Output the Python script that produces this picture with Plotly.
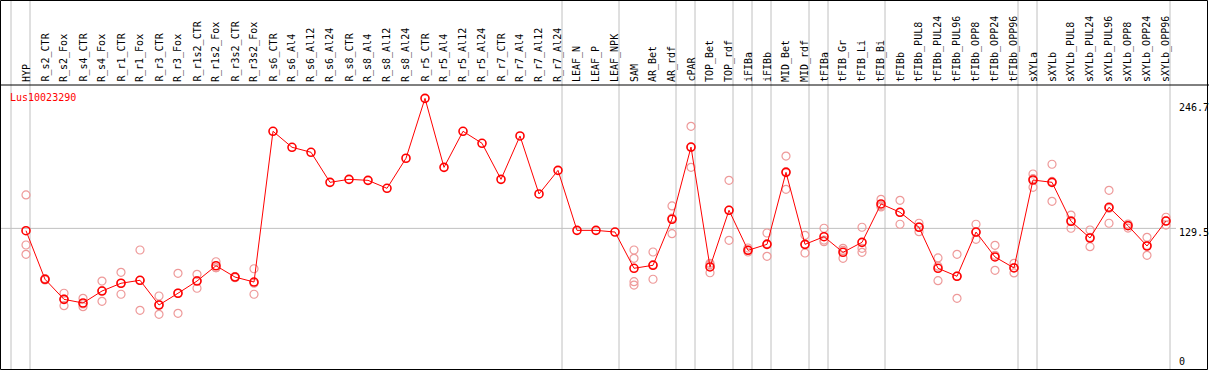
import plotly.graph_objects as go

title = "Lus10023290"

categories = [
    "HYP",
    "R_s2_CTR", "R_s2_Fox", "R_s4_CTR", "R_s4_Fox", "R_r1_CTR", "R_r1_Fox",
    "R_r3_CTR", "R_r3_Fox", "R_r1s2_CTR", "R_r1s2_Fox", "R_r3s2_CTR", "R_r3s2_Fox",
    "R_s6_CTR", "R_s6_Al4", "R_s6_Al12", "R_s6_Al24",
    "R_s8_CTR", "R_s8_Al4", "R_s8_Al12", "R_s8_Al24",
    "R_r5_CTR", "R_r5_Al4", "R_r5_Al12", "R_r5_Al24",
    "R_r7_CTR", "R_r7_Al4", "R_r7_Al12", "R_r7_Al24",
    "LEAF_N", "LEAF_P", "LEAF_NPK",
    "SAM", "AR_Bet", "AR_rdf",
    "cPAR",
    "TOP_Bet", "TOP_rdf",
    "iFIBa",
    "iFIBb",
    "MID_Bet", "MID_rdf",
    "tFIBa",
    "tFIB_Gr", "tFIB_Li", "tFIB_Bi",
    "tFIBb", "tFIBb_PUL8", "tFIBb_PUL24", "tFIBb_PUL96", "tFIBb_OPP8", "tFIBb_OPP24", "tFIBb_OPP96",
    "sXYLa",
    "sXYLb", "sXYLb_PUL8", "sXYLb_PUL24", "sXYLb_PUL96", "sXYLb_OPP8", "sXYLb_OPP24", "sXYLb_OPP96",
]

# sizes of the groups separated by grey vertical lines
group_sizes = [1, 28, 3, 3, 1, 2, 1, 1, 2, 1, 3, 7, 1, 7]

means = [
    127.4,
    83.6, 65.5, 62.2, 73.0, 80.0, 82.7, 60.4, 71.0, 82.0, 95.8, 85.6, 81.1,
    217.0, 202.6, 198.1, 171.0,
    173.7, 172.8, 165.6, 192.7,
    246.7, 184.5, 217.0, 206.2,
    173.7, 212.8, 160.5, 181.8,
    127.7, 127.7, 126.2,
    93.5, 96.2, 137.7,
    202.8,
    94.7, 145.8,
    109.7,
    115.1,
    180.0, 115.1,
    122.0,
    107.9, 116.9, 151.5,
    144.0, 130.5, 93.5, 86.3, 126.2, 103.7, 93.8,
    173.1,
    171.0, 135.9, 120.8, 148.5, 131.9, 113.6, 136.1,
]

replicates = [
    [159.6, 114.5, 106.1],
    [83.0, 84.2, 83.6], [71.0, 59.8, 65.7], [66.4, 58.9, 61.3], [82.0, 63.7, 73.3],
    [89.9, 70.1, 80.0], [110.0, 55.6, 82.5], [68.5, 52.0, 60.7], [89.0, 52.9, 71.1],
    [88.1, 75.5, 82.4], [99.4, 94.0, 94.0], [85.0, 86.0, 85.7], [93.1, 70.1, 80.0],
    [], [], [], [],
    [], [], [], [],
    [], [], [], [],
    [], [], [], [],
    [], [], [],
    [110.0, 102.5, 81.4, 78.4], [108.2, 83.6, 96.8], [149.7, 124.7, 138.7],
    [221.5, 184.5, 202.5],
    [98.0, 89.5, 96.6], [172.8, 118.7, 145.9],
    [111.8, 108.2, 110.0],
    [125.3, 104.3, 115.7],
    [194.7, 164.7, 180.6], [123.2, 107.3, 114.8],
    [129.6, 117.5, 118.9],
    [111.5, 102.5, 109.7], [130.5, 111.5, 107.9], [155.7, 148.8, 150.0],
    [154.8, 133.2, 144.0], [134.1, 126.5, 130.9], [102.8, 82.3, 95.4], [106.1, 66.4, 86.4],
    [133.2, 119.6, 125.8], [114.2, 91.7, 105.2], [98.0, 89.3, 94.1],
    [178.5, 166.5, 174.3],
    [187.3, 153.9, 171.8], [141.5, 129.6, 136.6], [128.0, 113.0, 121.4], [163.8, 134.1, 147.6],
    [133.4, 129.8, 132.5], [121.4, 105.2, 114.2], [139.5, 132.5, 136.3],
]

y_ticks = [0, 129.5, 246.7]
y_tick_labels = ["0", "129.5", "246.7"]

# ---------------------------------------------------------------- layout
W, H = 1209, 370
FONT = "DejaVu Sans Mono"
RED = "#ff0000"
PINK = "#ee9a9a"
GREY = "#c0c0c0"

# pixel geometry of the original
x_first_px, x_step_px = 26, 19
y_zero_px, y_per_unit = 372.0, 1.1092
header_px = 85

x_range = [(0 - x_first_px) / x_step_px, (W - x_first_px) / x_step_px]
y_range = [(y_zero_px - H) / y_per_unit, y_zero_px / y_per_unit]

xs = list(range(len(categories)))

fig = go.Figure()

rx, ry = [], []
for i, reps in enumerate(replicates):
    for v in reps:
        rx.append(i)
        ry.append(v)

fig.add_trace(go.Scatter(
    x=rx, y=ry, mode="markers",
    marker=dict(symbol="circle-open", size=8, color=PINK, line=dict(width=1.2, color=PINK)),
    hoverinfo="skip", showlegend=False,
))
fig.add_trace(go.Scatter(
    x=xs, y=means, mode="lines+markers",
    line=dict(color=RED, width=1),
    marker=dict(symbol="circle-open", size=8, color=RED, line=dict(width=1.6, color=RED)),
    showlegend=False,
))

shapes = []
# group separators
offset = 4 / x_step_px
pos = -1
bounds = [pos]
for g in group_sizes:
    pos += g
    bounds.append(pos)
for b in bounds:
    shapes.append(dict(type="line", xref="x", yref="paper", x0=b + offset, x1=b + offset,
                       y0=0, y1=1, line=dict(color=GREY, width=1), layer="below"))
# horizontal reference line at middle tick
shapes.append(dict(type="line", xref="paper", yref="y", x0=0, x1=1176 / W,
                   y0=y_ticks[1], y1=y_ticks[1], line=dict(color=GREY, width=1), layer="below"))
# header separator
shapes.append(dict(type="line", xref="paper", yref="paper", x0=0, x1=1,
                   y0=1 - header_px / H, y1=1 - header_px / H, line=dict(color="black", width=1)))
# outer border
shapes.append(dict(type="rect", xref="paper", yref="paper", x0=0.5 / W, x1=1 - 1.5 / W,
                   y0=0.5 / H, y1=1 - 0.5 / H, line=dict(color="black", width=1)))

annotations = []
for i, c in enumerate(categories):
    annotations.append(dict(x=i, xref="x", y=1 - 83 / H, yref="paper", text=c, textangle=-90,
                            xanchor="center", yanchor="bottom", showarrow=False,
                            font=dict(family=FONT, size=10, color="black"), borderpad=0))

annotations.append(dict(x=9 / W, xref="paper", y=1 - 97 / H, yref="paper", text=title,
                        xanchor="left", yanchor="middle", showarrow=False,
                        font=dict(family=FONT, size=10, color=RED), borderpad=0))

tick_px = {"246.7": 107.7, "129.5": 232, "0": 361.7}
for v, lab in zip(y_ticks, y_tick_labels):
    annotations.append(dict(x=1178 / W, xref="paper", y=1 - tick_px[lab] / H, yref="paper", text=lab,
                            xanchor="left", yanchor="middle", showarrow=False,
                            font=dict(family=FONT, size=10, color="black"), borderpad=0))

fig.update_layout(
    width=W, height=H,
    margin=dict(l=0, r=0, t=0, b=0),
    paper_bgcolor="white", plot_bgcolor="white",
    xaxis=dict(range=x_range, visible=False, fixedrange=True),
    yaxis=dict(range=y_range, visible=False, fixedrange=True),
    shapes=shapes, annotations=annotations,
    showlegend=False,
)

fig.write_html(
    "out.html",
    config={"displayModeBar": False},
    post_script="document.body.style.margin='0';document.body.style.padding='0';document.body.style.overflow='hidden';",
)
